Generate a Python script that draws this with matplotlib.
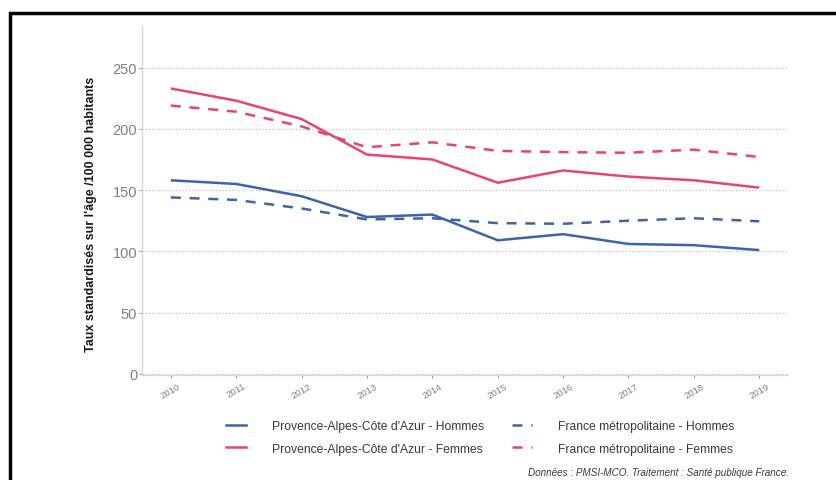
import matplotlib.pyplot as plt
from matplotlib.patches import Rectangle
from matplotlib.lines import Line2D

plt.rcParams["font.family"] = ["Liberation Sans", "DejaVu Sans"]

years = [2010, 2011, 2012, 2013, 2014, 2015, 2016, 2017, 2018, 2019]
paca_hommes = [158, 155, 145, 128, 130, 109, 114, 106, 105, 101]
paca_femmes = [233, 223, 208, 179, 175, 156, 166, 161, 158, 152]
france_hommes = [144, 142, 135, 126, 127, 123, 122.5, 125, 127, 124.5]
france_femmes = [219, 214, 202, 185, 189, 182, 181, 180.5, 183, 177]

BLUE = "#3b65ab"
RED = "#e8456c"
GREY = "#808080"

fig = plt.figure(figsize=(8.37, 4.81), dpi=100)
ax = fig.add_axes([0.1697, 0.2183, 0.7718, 0.7256])

ax.plot(years, paca_hommes, color=BLUE, lw=1.8, solid_capstyle="butt")
ax.plot(years, paca_femmes, color=RED, lw=1.8, solid_capstyle="butt")
ax.plot(years, france_hommes, color=BLUE, lw=1.8, ls=(0, (4, 3.5)))
ax.plot(years, france_femmes, color=RED, lw=1.8, ls=(0, (4, 3.5)))

ax.set_xlim(2009.56, 2019.44)
ax.set_ylim(-1, 284)
ax.set_xticks(years)
ax.set_xticklabels([str(y) for y in years], rotation=30, fontsize=6.8, color=GREY)
ax.set_yticks([0, 50, 100, 150, 200, 250])
ax.tick_params(axis="y", labelsize=10.5, colors=GREY, length=2.5, width=0.6, pad=1)
ax.tick_params(axis="x", colors=GREY, length=2.5, width=0.6, pad=2)
ax.yaxis.grid(True, ls=(0, (1, 2)), color="#b5b5b5", lw=0.8)
ax.set_axisbelow(True)
for side in ("top", "right"):
    ax.spines[side].set_visible(False)
for side in ("left", "bottom"):
    ax.spines[side].set_color("#d8d8d8")
    ax.spines[side].set_linewidth(1.0)

ax.set_ylabel("Taux standardisés sur l'âge /100 000 habitants", fontsize=9,
              fontweight="bold", color="#1a1a1a")
ax.yaxis.set_label_coords(-0.070, 0.464)

handles = [
    Line2D([], [], color=BLUE, lw=1.8),
    Line2D([], [], color=RED, lw=1.8),
    Line2D([], [], color=BLUE, lw=1.8, ls=(0, (4, 3.5))),
    Line2D([], [], color=RED, lw=1.8, ls=(0, (4, 3.5))),
]
labels = [
    "Provence-Alpes-Côte d'Azur - Hommes",
    "Provence-Alpes-Côte d'Azur - Femmes",
    "France métropolitaine - Hommes",
    "France métropolitaine - Femmes",
]
leg = fig.legend(handles, labels, ncol=2, loc="center", bbox_to_anchor=(0.574, 0.0885),
                 frameon=False, fontsize=8.7, handlelength=1.6, handletextpad=2.2,
                 columnspacing=2.3, labelspacing=0.85, labelcolor="#3a3a3a")

fig.text(0.943, 0.006, "Données : PMSI-MCO. Traitement : Santé publique France.",
         ha="right", va="bottom", fontsize=7.1, style="italic", color="#3a3a3a")

fig.patches.append(Rectangle((10 / 837, -0.05), 1.0, 1 - 14 / 481 + 0.05,
                             transform=fig.transFigure, fill=False,
                             edgecolor="black", lw=2.5))

fig.savefig("out.png", dpi=100)
